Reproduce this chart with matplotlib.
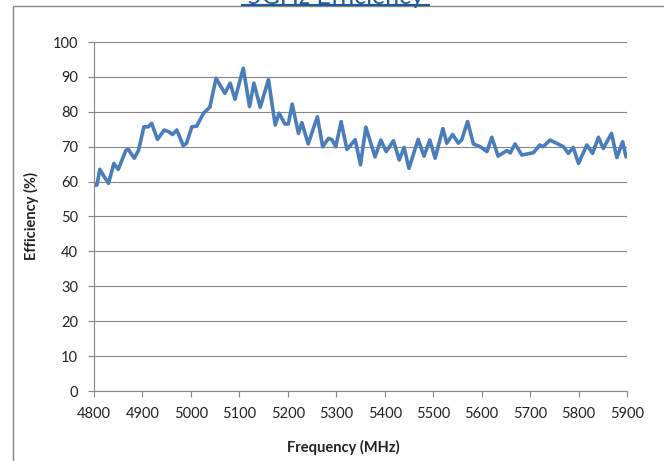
import matplotlib
matplotlib.use("Agg")
import matplotlib.pyplot as plt
from matplotlib.patches import Rectangle
from matplotlib.lines import Line2D

# Data
freq = [4800, 4806, 4812, 4821, 4830, 4841, 4850, 4866, 4871, 4883, 4892, 4903,
        4912, 4919, 4931, 4945, 4954, 4962, 4971, 4984, 4991, 5002, 5012, 5026,
        5039, 5052, 5060, 5070, 5081, 5091, 5108, 5121, 5130, 5143, 5160, 5174,
        5182, 5194, 5201, 5209, 5222, 5229, 5242, 5261, 5272, 5284, 5291, 5299,
        5310, 5322, 5339, 5350, 5361, 5380, 5392, 5403, 5418, 5430, 5440, 5450,
        5469, 5481, 5493, 5504, 5520, 5528, 5540, 5552, 5559, 5571, 5583, 5597,
        5611, 5621, 5634, 5652, 5659, 5669, 5683, 5707, 5720, 5727, 5741, 5769,
        5779, 5789, 5800, 5817, 5829, 5841, 5851, 5868, 5879, 5891, 5898]
eff = [59, 59, 63.5, 61.4, 59.5, 65.2, 63.5, 69, 69.2, 66.7, 69, 75.7,
       75.7, 76.7, 72.1, 74.8, 74.3, 73.5, 74.8, 70.3, 71, 75.7, 75.9, 79.6,
       81.3, 89.6, 87.7, 85.3, 88.2, 83.6, 92.5, 81.5, 88.2, 81.3, 89.2, 76.2,
       79.6, 76.5, 76.5, 82.2, 73.8, 76.9, 70.8, 78.6, 70, 72.4, 72, 70,
       77.2, 69.2, 72, 64.8, 75.6, 67.1, 71.9, 68.6, 71.7, 66.2, 69.8, 63.8,
       72.1, 67.3, 71.9, 66.7, 75.2, 71, 73.5, 71, 72, 77.2, 70.8, 70,
       68.6, 72.7, 67.3, 68.9, 68.2, 70.8, 67.6, 68.3, 70.5, 70, 71.9, 70,
       68.1, 69.8, 65.2, 70.5, 68.1, 72.7, 69.5, 73.8, 66.9, 71.4, 67.1]
xticks = list(range(4800, 5901, 100))
yticks = list(range(0, 101, 10))
title = "5GHz Efficiency"

# Style
plt.rcParams['font.family'] = ['Lato', 'DejaVu Sans']
grey = '#868686'
blue = '#4a7ebb'

W, H = 664, 461
fig = plt.figure(figsize=(W / 100, H / 100), dpi=100)
ax = fig.add_axes([94 / W, 1 - 391 / H, (627 - 94) / W, (391 - 42) / H])

ax.plot(freq, eff, color=blue, lw=2.6, solid_joinstyle='round', solid_capstyle='round')

ax.set_xlim(4800, 5900)
ax.set_ylim(0, 100)
ax.set_xticks(xticks)
ax.set_yticks(yticks)
ax.tick_params(axis='both', direction='out', length=4.5, width=0.8, color=grey,
               labelsize=10.5, labelcolor='#222222', pad=7)
ax.grid(axis='y', color=grey, lw=0.8)
ax.set_axisbelow(True)
for s in ['top', 'right']:
    ax.spines[s].set_visible(False)
for s in ['left', 'bottom']:
    ax.spines[s].set_color(grey)
    ax.spines[s].set_linewidth(0.8)

ax.set_xlabel('Frequency (MHz)', fontsize=10.5, fontweight='bold', color='#222222')
ax.set_ylabel('Efficiency (%)', fontsize=10.5, fontweight='bold', color='#222222')
ax.xaxis.set_label_coords((343 - 94) / 533, (391 - 440) / 349)
ax.yaxis.set_label_coords((39 - 94) / 533, 0.5)

# Outer chart border (runs off the right and bottom of the image)
fig.add_artist(Rectangle((13 / W, -0.2), 1.2, 1.2 - 6 / H, transform=fig.transFigure,
                         fill=False, edgecolor=grey, lw=1.0, clip_on=False))

# Title, mostly cut off at the top, with underline
tcol = '#1f5c99'
fig.text(335.5 / W, 1 - 4.5 / H, title, ha='center', va='baseline',
         fontsize=18, color=tcol)
fig.add_artist(Line2D([242 / W, 429 / W], [1 - 5.5 / H] * 2, color=tcol, lw=1.5,
                      transform=fig.transFigure))

fig.savefig('out.png', dpi=100, facecolor='white')
